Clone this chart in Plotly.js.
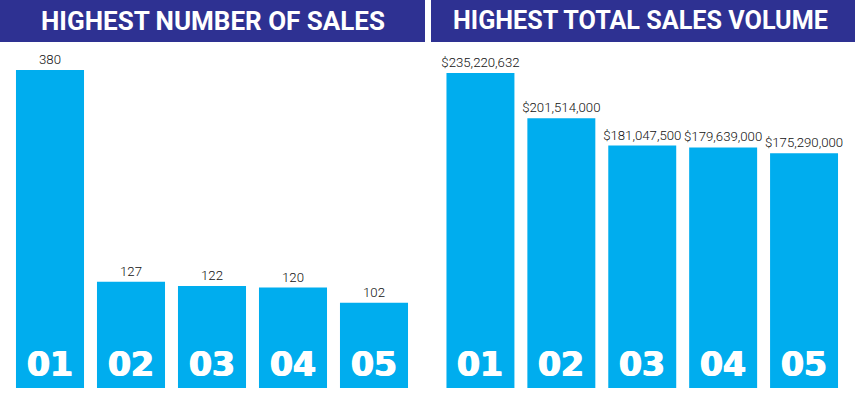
<!DOCTYPE html>
<html>
<head>
<meta charset="utf-8">
<script src="https://cdn.plot.ly/plotly-3.0.1.min.js"></script>
<style>html,body{margin:0;padding:0;background:#fff;}#chart{width:855px;height:394px;}</style>
</head>
<body>
<div id="chart"></div>
<script>
const ranks = ["01", "02", "03", "04", "05"];
const salesCount = [380, 127, 122, 120, 102];
const salesVolume = [235220632, 201514000, 181047500, 179639000, 175290000];
const leftTitle = "HIGHEST NUMBER OF SALES";
const rightTitle = "HIGHEST TOTAL SALES VOLUME";

const barColor = "#00adee";
const headerColor = "#2e3192";
const labelFont = {family: "Roboto, sans-serif", size: 13.2, color: "#111", weight: 300};

const traces = [
  {
    type: "bar", x: ranks, y: salesCount, xaxis: "x", yaxis: "y",
    marker: {color: barColor},
    text: salesCount.map(v => v.toLocaleString("en-US")),
    textposition: "outside", textfont: labelFont, cliponaxis: false, constraintext: "none",
    hoverinfo: "none"
  },
  {
    type: "bar", x: ranks, y: salesVolume, xaxis: "x2", yaxis: "y2",
    marker: {color: barColor},
    text: salesVolume.map(v => "$" + v.toLocaleString("en-US")),
    textposition: "outside", textfont: labelFont, cliponaxis: false, constraintext: "none",
    hoverinfo: "none"
  }
];

const rankFont = {family: "DejaVu Sans", size: 33, color: "#fff", weight: 700,
  shadow: "0.7px 0 0 #fff, -0.7px 0 0 #fff"};
const annotations = [];
ranks.forEach((r, i) => {
  annotations.push({x: i, y: 0, xref: "x", yref: "y", text: "<b>" + r + "</b>", showarrow: false,
    yanchor: "bottom", yshift: 2, font: rankFont});
  annotations.push({x: i, y: 0, xref: "x2", yref: "y2", text: "<b>" + r + "</b>", showarrow: false,
    yanchor: "bottom", yshift: 2, font: rankFont});
});
annotations.push({x: 212.5 / 855, y: 1 - 21 / 394, xref: "paper", yref: "paper", text: "<b>" + leftTitle + "</b>",
  showarrow: false, xanchor: "center", yanchor: "middle", font: {family: "Roboto, sans-serif", size: 26, color: "#fff"}});
annotations.push({x: 640 / 855, y: 1 - 21 / 394, xref: "paper", yref: "paper", text: "<b>" + rightTitle + "</b>",
  showarrow: false, xanchor: "center", yanchor: "middle", font: {family: "Roboto, sans-serif", size: 25.2, color: "#fff"}});

const yBottom = (394 - 388) / 394;
const yTop = (394 - 42) / 394;

const layout = {
  width: 855, height: 394,
  margin: {l: 0, r: 0, t: 0, b: 0},
  paper_bgcolor: "#fff", plot_bgcolor: "#fff",
  showlegend: false,
  bargap: 0.16,
  xaxis: {domain: [9.5 / 855, 414.5 / 855], visible: false, type: "category", range: [-0.5, 4.5]},
  yaxis: {domain: [yBottom, yTop], visible: false, range: [0, 413.4]},
  xaxis2: {domain: [440 / 855, 844.5 / 855], visible: false, type: "category", range: [-0.5, 4.5]},
  yaxis2: {domain: [yBottom, yTop], visible: false, range: [0, 258400000]},
  shapes: [
    {type: "rect", xref: "paper", yref: "paper", x0: 0, x1: 425 / 855, y0: 1 - 42 / 394, y1: 1,
      fillcolor: headerColor, line: {width: 0}},
    {type: "rect", xref: "paper", yref: "paper", x0: 431 / 855, x1: 1, y0: 1 - 42 / 394, y1: 1,
      fillcolor: headerColor, line: {width: 0}}
  ],
  annotations: annotations
};

Plotly.newPlot("chart", traces, layout, {staticPlot: true});
</script>
</body>
</html>
